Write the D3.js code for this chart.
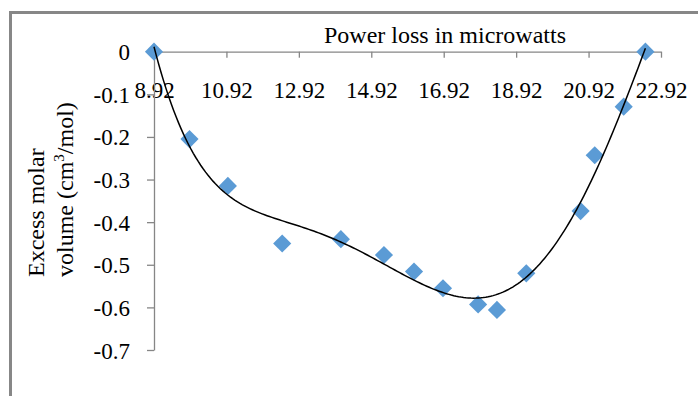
<!DOCTYPE html>
<html>
<head>
<meta charset="utf-8">
<script src="https://cdn.jsdelivr.net/npm/d3@7"></script>
<style>
  html, body { margin: 0; padding: 0; background: #fff; }
  svg { display: block; }
  text { font-family: "Liberation Serif", "Times New Roman", serif; fill: #000; }
</style>
</head>
<body>
<svg id="chart" width="698" height="396"></svg>
<script>
// Power loss (microwatts) and excess molar volume (cm3/mol)
const powerLoss = [8.92, 9.90, 10.96, 12.46, 14.08, 15.27, 16.10, 16.90, 17.87, 18.39, 19.20, 20.70, 21.09, 21.89, 22.49];
const excessVolume = [0, -0.205, -0.315, -0.450, -0.440, -0.477, -0.516, -0.555, -0.593, -0.606, -0.520, -0.374, -0.243, -0.129, 0];
const xTicks = [8.92, 10.92, 12.92, 14.92, 16.92, 18.92, 20.92, 22.92];
const yTicks = [0, -0.1, -0.2, -0.3, -0.4, -0.5, -0.6, -0.7];
const trendOrder = 5;

const svg = d3.select("#chart");
const serif = "'Liberation Serif', 'Times New Roman', serif";

// chart area frame
svg.append("rect")
  .attr("x", 10.5).attr("y", 12.5)
  .attr("width", 720).attr("height", 420)
  .attr("fill", "#fff")
  .attr("stroke", "#878787").attr("stroke-width", 3);

const x = d3.scaleLinear().domain([8.92, 22.92]).range([154, 661]);
const y = d3.scaleLinear().domain([-0.7, 0]).range([350, 51.7]);

const axisColor = "#868686";
const hyphenMinus = s => s.replace("\u2212", "-");

// x axis sits at y = 0 with ticks hanging below
const xAxis = svg.append("g")
  .attr("transform", `translate(0,${y(0)})`)
  .call(d3.axisBottom(x).tickValues(xTicks).tickSize(6).tickSizeOuter(0).tickFormat(d3.format(".2f")));
xAxis.select(".domain").attr("stroke", axisColor).attr("stroke-width", 1.3);
xAxis.selectAll(".tick line").attr("stroke", axisColor).attr("stroke-width", 1.3);
xAxis.selectAll(".tick text")
  .attr("y", 46.5).attr("dy", null)
  .style("font-size", "23px")
  .style("font-family", serif);

const yAxis = svg.append("g")
  .attr("transform", `translate(${x(8.92)},0)`)
  .call(d3.axisLeft(y).tickValues(yTicks).tickSize(7).tickSizeOuter(0)
    .tickFormat(d => d === 0 ? "0" : hyphenMinus(d3.format(".1f")(d))));
yAxis.select(".domain").attr("stroke", axisColor).attr("stroke-width", 1.3);
yAxis.selectAll(".tick line").attr("stroke", axisColor).attr("stroke-width", 1.3);
yAxis.selectAll(".tick text")
  .attr("x", -24).attr("dy", "8")
  .style("font-size", "23px")
  .style("font-family", serif);
svg.selectAll(".domain").attr("fill", "none");

// axis titles
svg.append("text")
  .attr("x", 445).attr("y", 43)
  .attr("text-anchor", "middle")
  .style("font-size", "24px")
  .text("Power loss in microwatts");

const yTitle = svg.append("g").attr("transform", "translate(43.5,277) rotate(-90)");
yTitle.append("text")
  .attr("text-anchor", "start")
  .style("font-size", "24px")
  .text("Excess molar");
const line2 = yTitle.append("text")
  .attr("y", 29.5)
  .attr("text-anchor", "start")
  .style("font-size", "24px");
line2.append("tspan").text("volume (cm");
line2.append("tspan").attr("dy", -9).style("font-size", "15px").text("3");
line2.append("tspan").attr("dy", 9).text("/mol)");

// least-squares polynomial trendline through the measured points
function polyFit(xs, ys, order) {
  const mx = d3.mean(xs), sx = (d3.max(xs) - d3.min(xs)) / 2;
  const ts = xs.map(v => (v - mx) / sx);
  const n = order + 1;
  const A = Array.from({length: n}, () => new Array(n + 1).fill(0));
  ts.forEach((t, k) => {
    const p = [];
    for (let i = 0; i < n; i++) p.push(Math.pow(t, i));
    for (let i = 0; i < n; i++) {
      for (let j = 0; j < n; j++) A[i][j] += p[i] * p[j];
      A[i][n] += p[i] * ys[k];
    }
  });
  for (let c = 0; c < n; c++) {
    let piv = c;
    for (let r = c + 1; r < n; r++) if (Math.abs(A[r][c]) > Math.abs(A[piv][c])) piv = r;
    [A[c], A[piv]] = [A[piv], A[c]];
    for (let r = 0; r < n; r++) {
      if (r === c) continue;
      const f = A[r][c] / A[c][c];
      for (let j = c; j <= n; j++) A[r][j] -= f * A[c][j];
    }
  }
  const coef = A.map((row, i) => row[n] / row[i]);
  return v => {
    const t = (v - mx) / sx;
    let s = 0;
    for (let i = n - 1; i >= 0; i--) s = s * t + coef[i];
    return s;
  };
}

const fit = polyFit(powerLoss, excessVolume, trendOrder);
const xs = d3.range(0, 201).map(i => powerLoss[0] + (powerLoss[powerLoss.length - 1] - powerLoss[0]) * i / 200);

// markers
svg.append("g").selectAll("path")
  .data(powerLoss.map((p, i) => [p, excessVolume[i]]))
  .join("path")
  .attr("d", d3.symbol().type(d3.symbolSquare).size(165))
  .attr("transform", d => `translate(${x(d[0])},${y(d[1])}) rotate(45)`)
  .attr("fill", "#5b9bd5");

svg.append("path")
  .datum(xs)
  .attr("d", d3.line().x(d => x(d)).y(d => y(fit(d))))
  .attr("fill", "none")
  .attr("stroke", "#000")
  .attr("stroke-width", 1.5);
</script>
</body>
</html>
